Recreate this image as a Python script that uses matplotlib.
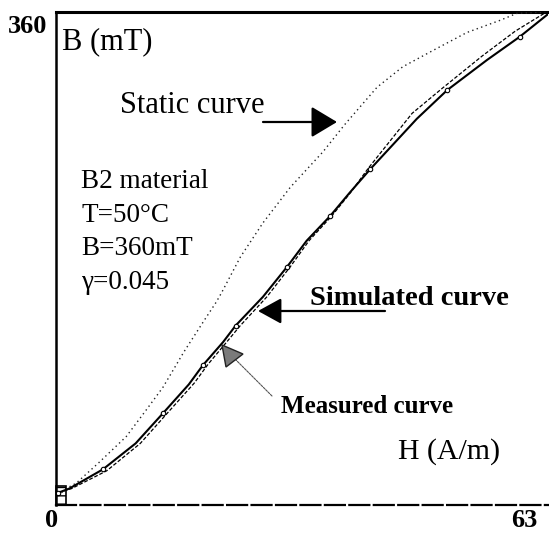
import matplotlib
matplotlib.use("Agg")
import matplotlib.pyplot as plt
from matplotlib.patches import Polygon, Rectangle
from matplotlib.transforms import ScaledTranslation

# ---- data (H in A/m, B in mT) ----
static_H = [0.3, 1.3, 2.6, 5.5, 9.0, 11.5, 13.7, 16.4, 19.0, 20.5, 21.2, 23.6, 26.5,
            30.0, 34.2, 37.0, 41.1, 44.4, 48.3, 52.6, 56.9, 59.0, 63.0]
static_B = [7, 12, 16, 31, 50, 69, 86, 112, 135, 148, 155, 181, 206,
            232, 258, 278, 305, 320, 332, 345, 354, 359, 360]

measured_H = [0.3, 1.7, 6.0, 10.2, 13.7, 17.0, 18.8, 21.4, 23.0, 26.5, 29.6, 32.1,
              35.1, 37.6, 40.2, 46.2, 50.1, 55.2, 59.4, 62.9]
measured_B = [9, 12, 26, 45, 67, 88, 102, 119, 131, 152, 174, 193,
              211, 228, 245, 282, 303, 325, 342, 358]

simulated_H = [0.3, 2.0, 6.5, 10.8, 14.4, 17.7, 19.5, 22.0, 23.6, 27.0, 30.0, 32.4,
               35.3, 37.7, 40.0, 45.6, 49.4, 54.6, 58.8, 62.8]
simulated_B = [9, 12, 25, 45, 68, 89, 103, 120, 131, 152, 174, 193,
               211, 228, 246, 286, 304, 328, 346, 360]

x_ticks = [0, 63]
x_ticklabels = ["0", "63"]
y_ticks = [360]
y_ticklabels = ["360"]

W, H = 549, 538
SERIF = ["Liberation Serif", "DejaVu Serif"]
plt.rcParams["font.family"] = SERIF

fig = plt.figure(figsize=(W / 100, H / 100), dpi=100)
ax = fig.add_axes([56 / W, (H - 505) / H, 492 / W, 493 / H])
ax.set_xlim(0, 63)
ax.set_ylim(0, 360)

ax.plot(static_H, static_B, color="#222222", lw=1.0, linestyle=(0, (1, 2.4)), zorder=3)
ax.plot(simulated_H, simulated_B, color="black", lw=0.9, linestyle=(0, (3, 1.5)), zorder=3)
ax.plot(measured_H, measured_B, color="black", lw=1.5, marker="o", markersize=3.2,
        markerfacecolor="white", markeredgecolor="black", markeredgewidth=0.8,
        markevery=2, zorder=4)

# spines
ax.spines["right"].set_visible(False)
ax.spines["top"].set_linewidth(2.2)
ax.spines["left"].set_linewidth(1.8)
ax.spines["bottom"].set_linewidth(1.6)
ax.spines["bottom"].set_linestyle((0, (9, 2)))

# ticks
ax.set_xticks(x_ticks)
ax.set_xticklabels(x_ticklabels, fontsize=19, fontweight="bold")
ax.set_yticks(y_ticks)
ax.set_yticklabels(y_ticklabels, fontsize=19, fontweight="bold")
ax.tick_params(axis="both", length=0, pad=3)
xl = ax.get_xticklabels()
xl[0].set_transform(xl[0].get_transform() + ScaledTranslation(-0.04, 0, fig.dpi_scale_trans))
xl[1].set_horizontalalignment("right")
xl[1].set_transform(xl[1].get_transform() + ScaledTranslation(-0.11, 0, fig.dpi_scale_trans))
yl = ax.get_yticklabels()[0]
yl.set_verticalalignment("top")
yl.set_transform(yl.get_transform() + ScaledTranslation(-0.05, -0.03, fig.dpi_scale_trans))

# small box at origin
ax.add_patch(Rectangle((0, 0), 10 / 492 * 63, 19 / 493 * 360, fill=False,
                       edgecolor="black", lw=1.2, hatch="--", zorder=5, clip_on=False))


def txt(s, px, py, size, weight="normal", ha="left"):
    ax.annotate(s, xy=(px, H - py), xycoords="figure pixels", ha=ha, va="baseline",
                fontsize=size, fontweight=weight, family=SERIF)


txt("B (mT)", 62, 49, 22)
txt("Static curve", 120, 113, 22)
txt("B2 material", 81, 188, 19.5)
txt("T=50°C", 81, 222, 19.5)
txt("B=360mT", 81, 255, 19.5)
txt("γ=0.045", 81, 289, 19.5)
txt("Simulated curve", 310, 305, 20.5, "bold")
txt("Measured curve", 281, 413, 18, "bold")
txt("H (A/m)", 398, 459, 21.5)

# arrows
ax.annotate("", xy=(337, H - 122), xycoords="figure pixels",
            xytext=(263, H - 122), textcoords="figure pixels",
            arrowprops=dict(arrowstyle="-|>,head_length=0.4,head_width=0.24",
                            mutation_scale=40, lw=1.6, color="black",
                            shrinkA=0, shrinkB=0))
ax.annotate("", xy=(258, H - 311), xycoords="figure pixels",
            xytext=(385, H - 311), textcoords="figure pixels",
            arrowprops=dict(arrowstyle="-|>,head_length=0.4,head_width=0.22",
                            mutation_scale=36, lw=1.6, color="black",
                            shrinkA=0, shrinkB=0))
ax.annotate("", xy=(236, H - 360), xycoords="figure pixels",
            xytext=(272, H - 396), textcoords="figure pixels",
            arrowprops=dict(arrowstyle="-", lw=0.8, color="#555555",
                            linestyle=(0, (2, 1)), shrinkA=0, shrinkB=0))
tri = Polygon([(222, H - 345), (243, H - 354), (226, H - 367)], closed=True,
              facecolor="#7a7a7a", edgecolor="#222222", lw=1.0,
              transform=None, zorder=6)
fig.patches.append(tri)

fig.savefig("out.png", dpi=100)
